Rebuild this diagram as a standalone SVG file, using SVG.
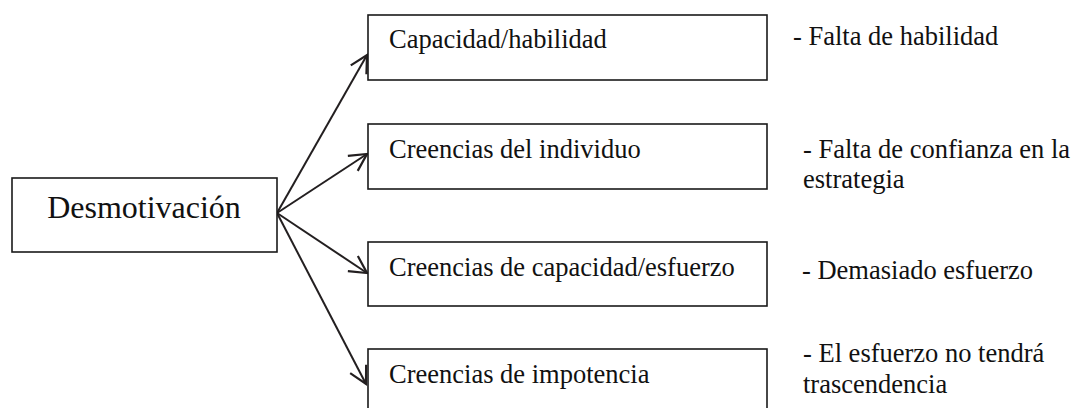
<svg xmlns="http://www.w3.org/2000/svg" width="1075" height="408" viewBox="0 0 1075 408">
<style>
.box{fill:#fff;stroke:#1a1a1a;stroke-width:1.6}
text{font-family:'Liberation Serif','Times New Roman',serif;font-size:26.5px;fill:#111}
.big{font-size:32px}
.conn{stroke:#231f20;stroke-width:2;fill:none;marker-end:url(#arr)}
</style>
<defs>
<marker id="arr" markerUnits="userSpaceOnUse" markerWidth="24" markerHeight="24" refX="18" refY="10" orient="auto" viewBox="0 0 24 20">
<path d="M1,1 L18,10 L1,19" fill="none" stroke="#231f20" stroke-width="2.2" stroke-linejoin="miter"/>
</marker>
</defs>
<rect width="1075" height="408" fill="#fff"/>
<g id="connectors">
<line class="conn" x1="277" y1="213" x2="367" y2="55"/>
<line class="conn" x1="277" y1="213" x2="367" y2="154"/>
<line class="conn" x1="277" y1="213" x2="367" y2="273"/>
<line class="conn" x1="277" y1="213" x2="366" y2="384"/>
</g>
<g id="n0">
<rect class="box" x="12" y="178" width="265" height="74"/>
<text class="big" x="144" y="218" text-anchor="middle" font-family="Liberation Serif, serif">Desmotivación</text>
</g>
<g id="n1">
<rect class="box" x="368" y="15" width="399" height="65"/>
<text x="389" y="48" font-family="Liberation Serif, serif">Capacidad/habilidad</text>
</g>
<g id="n2">
<rect class="box" x="368" y="124" width="399" height="65"/>
<text x="389" y="158" font-family="Liberation Serif, serif">Creencias del individuo</text>
</g>
<g id="n3">
<rect class="box" x="368" y="242" width="399" height="64"/>
<text x="389" y="276" font-family="Liberation Serif, serif">Creencias de capacidad/esfuerzo</text>
</g>
<g id="n4">
<rect class="box" x="368" y="349" width="399" height="65"/>
<text x="389" y="383" font-family="Liberation Serif, serif">Creencias de impotencia</text>
</g>
<g id="notes" font-family="Liberation Serif, serif">
<text x="793" y="45">- Falta de habilidad</text>
<text x="803" y="158">- Falta de confianza en la</text>
<text x="803" y="188">estrategia</text>
<text x="802" y="279">- Demasiado esfuerzo</text>
<text x="803" y="362">- El esfuerzo no tendrá</text>
<text x="803" y="393">trascendencia</text>
</g>
</svg>
